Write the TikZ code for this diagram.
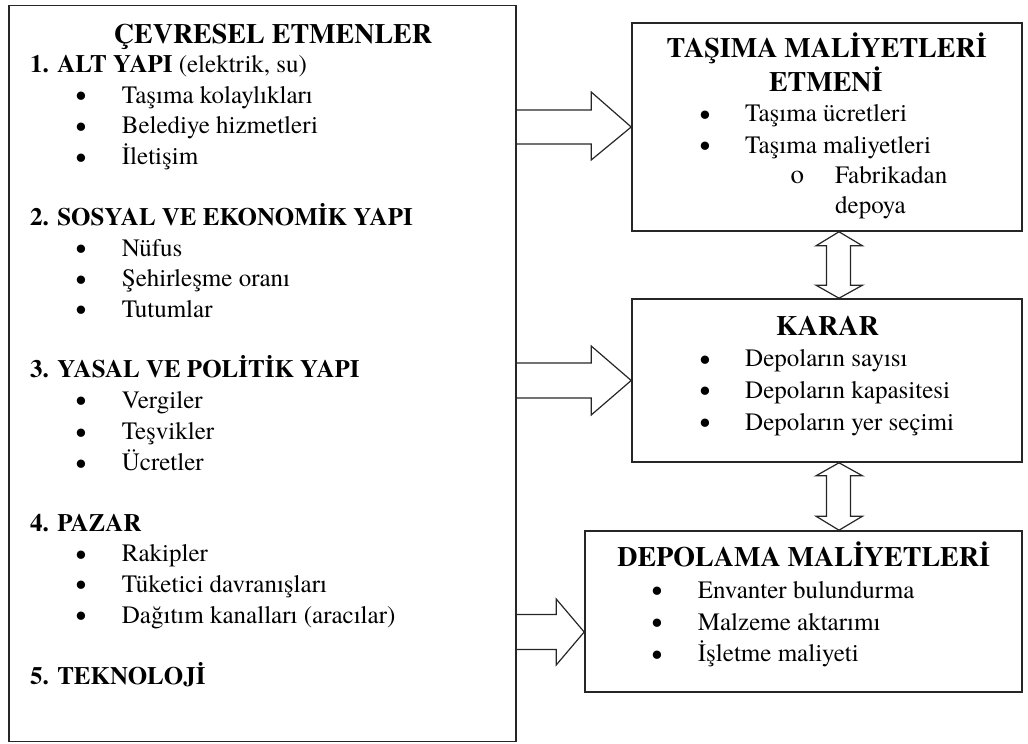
\documentclass[tikz,border=0pt]{standalone}
\usepackage{fontspec}
\setmainfont{TeX Gyre Termes}
\usetikzlibrary{calc}

\tikzset{
  box/.style={draw=black!85, line width=1.6pt, fill=none, inner sep=0pt},
  blockarrow/.style={draw=black!85, line width=1.2pt, line join=miter},
  itemtxt/.style={font=\fontsize{25}{30}\selectfont, inner sep=0pt, anchor=base west},
  headtxt/.style={font=\fontsize{25}{30}\selectfont\bfseries, inner sep=0pt, anchor=base west},
  titletxt/.style={font=\fontsize{28}{32}\selectfont\bfseries, inner sep=0pt, anchor=base},
  dot/.style={font=\fontsize{31}{30}\selectfont, inner sep=0pt, anchor=base, yshift=-3.5pt},
  circ/.style={font=\fontsize{27}{30}\selectfont, inner sep=0pt, anchor=base},
}

\begin{document}
\begin{tikzpicture}[x=1pt,y=-1pt]
\useasboundingbox (0,0) rectangle (1028,744);

% ---- boxes ----
\node[box, minimum width=507pt, minimum height=736pt] (env)   at (262.5,373.3) {};
\node[box, minimum width=390pt, minimum height=208pt] (cost)  at (827,127) {};
\node[box, minimum width=390pt, minimum height=163pt] (dec)   at (827,380.5) {};
\node[box, minimum width=437pt, minimum height=161pt] (store) at (803.5,611.5) {};

% ---- left box: environmental factors ----
\node[titletxt] (envt) at (273,43.3) {ÇEVRESEL ETMENLER};

\node[headtxt] (h1) at (30,72.7) {1. ALT YAPI \mdseries(elektrik, su)};
\node[dot] (b11) at (81,103.3) {•};  \node[itemtxt] (i11) at (121.7,103.3) {Taşıma kolaylıkları};
\node[dot] (b12) at (81,133.8) {•};  \node[itemtxt] (i12) at (121.7,133.8) {Belediye hizmetleri};
\node[dot] (b13) at (81,164.5) {•};  \node[itemtxt] (i13) at (121.7,164.5) {İletişim};

\node[headtxt] (h2) at (30,225.3) {2. SOSYAL VE EKONOMİK YAPI};
\node[dot] (b21) at (81,256) {•};    \node[itemtxt] (i21) at (121.7,256) {Nüfus};
\node[dot] (b22) at (81,286.7) {•};  \node[itemtxt] (i22) at (121.7,286.7) {Şehirleşme oranı};
\node[dot] (b23) at (81,317.3) {•};  \node[itemtxt] (i23) at (121.7,317.3) {Tutumlar};

\node[headtxt] (h3) at (30,377.5) {3. YASAL VE POLİTİK YAPI};
\node[dot] (b31) at (81,408.3) {•};  \node[itemtxt] (i31) at (121.7,408.3) {Vergiler};
\node[dot] (b32) at (81,439.5) {•};  \node[itemtxt] (i32) at (121.7,439.5) {Teşvikler};
\node[dot] (b33) at (81,470.5) {•};  \node[itemtxt] (i33) at (121.7,470.5) {Ücretler};

\node[headtxt] (h4) at (30,531.7) {4. PAZAR};
\node[dot] (b41) at (81,561.7) {•};  \node[itemtxt] (i41) at (121.7,561.7) {Rakipler};
\node[dot] (b42) at (81,592.3) {•};  \node[itemtxt] (i42) at (121.7,592.3) {Tüketici davranışları};
\node[dot] (b43) at (81,623) {•};    \node[itemtxt] (i43) at (121.7,623) {Dağıtım kanalları (aracılar)};

\node[headtxt] (h5) at (30,684) {5. TEKNOLOJİ};

% ---- transport cost box ----
\node[titletxt] (costt1) at (826.7,57.3) {TAŞIMA MALİYETLERİ};
\node[titletxt] (costt2) at (825.8,91.7) {ETMENİ};
\node[dot] (c1b) at (705,121.7) {•};  \node[itemtxt] (c1) at (745,121.7) {Taşıma ücretleri};
\node[dot] (c2b) at (705,153.3) {•};  \node[itemtxt] (c2) at (745,153.3) {Taşıma maliyetleri};
\node[circ] (c3b) at (797.3,183.3) {o}; \node[itemtxt] (c3) at (835,183.3) {Fabrikadan};
\node[itemtxt] (c4) at (835,213.3) {depoya};

% ---- decision box ----
\node[titletxt] (dect) at (827.5,335) {KARAR};
\node[dot] (d1b) at (705,366.7) {•};  \node[itemtxt] (d1) at (745,366.7) {Depoların sayısı};
\node[dot] (d2b) at (705,398.3) {•};  \node[itemtxt] (d2) at (745,398.3) {Depoların kapasitesi};
\node[dot] (d3b) at (705,430) {•};    \node[itemtxt] (d3) at (745,430) {Depoların yer seçimi};

% ---- storage cost box ----
\node[titletxt] (storet) at (803.7,566.7) {DEPOLAMA MALİYETLERİ};
\node[dot] (s1b) at (657,598.3) {•};  \node[itemtxt] (s1) at (697.7,598.3) {Envanter bulundurma};
\node[dot] (s2b) at (657,630) {•};    \node[itemtxt] (s2) at (697.7,630) {Malzeme aktarımı};
\node[dot] (s3b) at (657,661.7) {•};  \node[itemtxt] (s3) at (697.7,661.7) {İşletme maliyeti};

% ---- hollow block arrows from the left box ----
\coordinate (a1t) at (cost.west);
\coordinate (a1s) at (env.east |- a1t);
\draw[blockarrow] ($(a1s)+(0,-17)$) -- ($(a1t)+(-40,-17)$) -- ($(a1t)+(-40,-35)$) -- (a1t)
   -- ($(a1t)+(-40,33)$) -- ($(a1t)+(-40,17)$) -- ($(a1s)+(0,17)$);

\coordinate (a2t) at (dec.west);
\coordinate (a2s) at (env.east |- a2t);
\draw[blockarrow] ($(a2s)+(0,-17.5)$) -- ($(a2t)+(-40,-17.5)$) -- ($(a2t)+(-40,-34.5)$) -- (a2t)
   -- ($(a2t)+(-40,34.5)$) -- ($(a2t)+(-40,17.5)$) -- ($(a2s)+(0,17.5)$);

\coordinate (a3t) at ($(store.west)+(0,20.5)$);
\coordinate (a3s) at (env.east |- a3t);
\draw[blockarrow] ($(a3s)+(0,-17.5)$) -- ($(a3t)+(-28,-17.5)$) -- ($(a3t)+(-28,-33)$) -- (a3t)
   -- ($(a3t)+(-28,33)$) -- ($(a3t)+(-28,17.5)$) -- ($(a3s)+(0,17.5)$);

% ---- hollow double arrows between the right boxes ----
\coordinate (u1) at ($(cost.south)+(12,0)$);
\coordinate (u2) at (dec.north -| u1);
\draw[blockarrow] (u1) -- ($(u1)+(23.5,14)$) -- ($(u1)+(11.5,14)$) -- ($(u2)+(11.5,-13)$)
   -- ($(u2)+(23.5,-13)$) -- (u2) -- ($(u2)+(-23,-13)$) -- ($(u2)+(-12.5,-13)$)
   -- ($(u1)+(-12.5,14)$) -- ($(u1)+(-23,14)$) -- cycle;

\coordinate (v1) at (dec.south -| u1);
\coordinate (v2) at (store.north -| u1);
\draw[blockarrow] (v1) -- ($(v1)+(23.5,13)$) -- ($(v1)+(11.5,13)$) -- ($(v2)+(11.5,-14)$)
   -- ($(v2)+(23.5,-14)$) -- (v2) -- ($(v2)+(-23,-14)$) -- ($(v2)+(-12.5,-14)$)
   -- ($(v1)+(-12.5,13)$) -- ($(v1)+(-23,13)$) -- cycle;

\end{tikzpicture}
\end{document}
